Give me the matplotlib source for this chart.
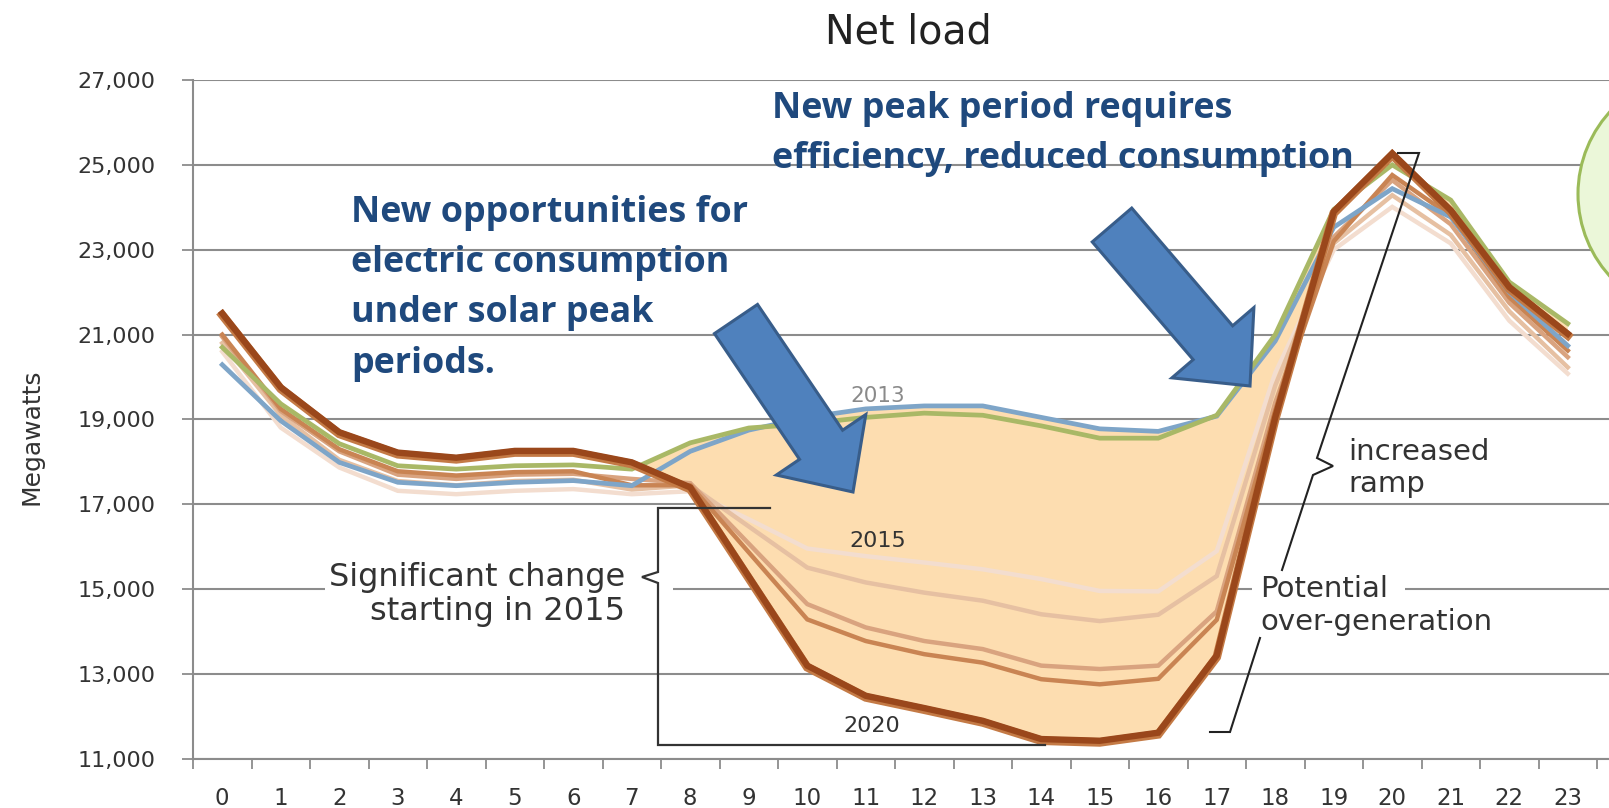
import numpy as np
import matplotlib
matplotlib.use("Agg")
import matplotlib.pyplot as plt
from matplotlib.patches import Polygon, Ellipse, Rectangle
from matplotlib.lines import Line2D
import matplotlib.patheffects as pe

# ---------------- data ----------------
hours = list(range(24))
hour_labels = [str(h) for h in hours]
y_ticks = [11000, 13000, 15000, 17000, 19000, 21000, 23000, 25000, 27000]

load_2012 = [20700, 19370, 18430, 17910, 17830, 17910, 17930, 17830, 18450, 18800, 18900, 19050,
             19150, 19100, 18850, 18560, 18560, 19100, 21000, 23950, 25000, 24170, 22240, 21260]
load_2013 = [20290, 18970, 17990, 17520, 17440, 17520, 17560, 17440, 18250, 18750, 19050, 19250,
             19320, 19320, 19050, 18780, 18720, 19080, 20850, 23530, 24440, 23770, 22000, 20740]
load_2015 = [20600, 18810, 17870, 17320, 17240, 17320, 17360, 17240, 17310, 16650, 15960, 15780,
             15630, 15470, 15240, 14960, 14950, 15900, 20100, 23000, 24010, 23150, 21330, 20080]
load_2016 = [20800, 19100, 18050, 17550, 17450, 17550, 17580, 17350, 17450, 16480, 15510, 15160,
             14920, 14730, 14410, 14250, 14400, 15310, 19800, 23150, 24285, 23350, 21550, 20230]
load_2018 = [20950, 19200, 18250, 17700, 17600, 17700, 17720, 17600, 17500, 16075, 14650, 14100,
             13780, 13590, 13200, 13120, 13200, 14480, 19400, 23300, 24640, 23600, 21750, 20470]
load_2019 = [21000, 19250, 18300, 17780, 17680, 17760, 17780, 17450, 17450, 15870, 14290, 13780,
             13470, 13270, 12880, 12760, 12890, 14280, 19200, 23200, 24760, 23800, 21880, 20625]
load_2020 = [21500, 19760, 18700, 18220, 18100, 18260, 18260, 17990, 17400, 15300, 13200, 12490,
             12200, 11900, 11470, 11430, 11620, 13440, 19050, 23900, 25270, 23930, 22120, 21020]

# ---------------- figure ----------------
W, H = 1609, 808
fig = plt.figure(figsize=(W / 100, H / 100), dpi=100)
fig.patch.set_facecolor("white")


def P(x, y):
    return (x / W, 1 - y / H)


ax = fig.add_axes([193 / W, 1 - 759 / H, (W - 193) / W, (759 - 80) / H])
ax.set_xlim(-0.5, -0.5 + (W - 193) / 58.5)
ax.set_ylim(11000, 27000)
ax.set_facecolor("none")

grey = "#8c8c8c"
txt = "#333333"

ax.set_yticks(y_ticks)
ax.set_yticklabels([f"{v:,}" for v in y_ticks], fontsize=16, color=txt, family="DejaVu Sans")
ax.set_xticks(hours)
ax.set_xticklabels(hour_labels, fontsize=16.5, color=txt, family="DejaVu Sans")
ax.set_xticks(np.arange(-0.5, 24.0, 1.0), minor=True)
ax.tick_params(axis="x", which="major", length=0, pad=20)
ax.tick_params(axis="x", which="minor", length=7, width=1.3, color=grey, direction="out")
ax.tick_params(axis="y", which="major", length=8, width=1.3, color=grey, direction="out", pad=19)
ax.yaxis.grid(True, color=grey, lw=1.5, zorder=0)
ax.set_axisbelow(True)
for s in ["top", "right"]:
    ax.spines[s].set_visible(False)
for s in ["left", "bottom"]:
    ax.spines[s].set_color(grey)
    ax.spines[s].set_linewidth(1.5)

FT = fig.transFigure

fig.text(*P(31, 437), "Megawatts", rotation=90, ha="center", va="center", fontsize=18,
         color=txt, family="DejaVu Sans")

# fill (belly)
upper = np.maximum(load_2012, load_2013)
lower = np.array(load_2020)
ax.fill_between(hours, lower, upper, where=upper >= lower, interpolate=True,
                color="#FDDDB0", lw=0, zorder=1)

# lines
ax.plot(hours, load_2015, color="#F3DDCF", lw=3.2, zorder=2, solid_joinstyle="miter")
ax.plot(hours, load_2016, color="#E6C0A2", lw=3.2, zorder=2, solid_joinstyle="miter")
ax.plot(hours, load_2018, color="#D9A37F", lw=3.2, zorder=2, solid_joinstyle="miter")
ax.plot(hours, load_2019, color="#C98453", lw=3.2, zorder=2, solid_joinstyle="miter")
ax.plot(hours, load_2013, color="#7EA5C8", lw=3.4, zorder=2.1, solid_joinstyle="miter")
ax.plot(hours, load_2012, color="#A9B866", lw=3.4, zorder=2.2, solid_joinstyle="miter")
ax.plot(hours, load_2020, color="#9A471B", lw=4.6, zorder=2.3, solid_joinstyle="miter",
        path_effects=[pe.Stroke(linewidth=6.2, foreground="#C47A45", offset=(0, -1.2)), pe.Normal()])

# white boxes behind annotation text (hide gridline)
ax.add_patch(Rectangle(P(325, 620), (673 - 325) / W, 60 / H, transform=FT, color="white",
                       zorder=4, clip_on=False, lw=0))
ax.add_patch(Rectangle(P(1252, 603), (1405 - 1252) / W, 26 / H, transform=FT, color="white",
                       zorder=4, clip_on=False, lw=0))


def line(xs, ys, color="#333333", lw=1.6):
    pts = [P(x, y) for x, y in zip(xs, ys)]
    ax.add_line(Line2D([p[0] for p in pts], [p[1] for p in pts], transform=FT, color=color,
                       lw=lw, zorder=5, clip_on=False, solid_joinstyle="miter"))


# "Significant change" bracket
line([770, 658, 658, 642, 658, 658, 1045], [508, 508, 572, 577, 583, 745, 745])
# increased ramp brace
line([1398, 1419, 1317, 1333, 1313, 1282], [153, 153, 458, 466, 475, 570], color="#222222", lw=1.5)
# potential over-generation leg
line([1260, 1230, 1210], [638, 732, 732], color="#222222", lw=1.5)

# grey annotation texts
tk = dict(transform=FT, family="DejaVu Sans", color=txt, zorder=6)
ax.text(*P(625, 586), "Significant change", ha="right", va="baseline", fontsize=23, **tk)
ax.text(*P(625, 620), "starting in 2015", ha="right", va="baseline", fontsize=23, **tk)
ax.text(*P(1348, 460), "increased", ha="left", va="baseline", fontsize=21, **tk)
ax.text(*P(1348, 492), "ramp", ha="left", va="baseline", fontsize=21, **tk)
ax.text(*P(1260, 597), "Potential", ha="left", va="baseline", fontsize=21, **tk)
ax.text(*P(1260, 630), "over-generation", ha="left", va="baseline", fontsize=21, **tk)
ax.text(*P(878, 547), "2015", ha="center", va="baseline", fontsize=16, **tk)
ax.text(*P(872, 732), "2020", ha="center", va="baseline", fontsize=16, **tk)
ax.text(*P(878, 402), "2013", ha="center", va="baseline", fontsize=15.5, transform=FT,
        family="DejaVu Sans", color="#8a8a8a", zorder=6)

# title
fig.text(*P(908, 44), "Net load", ha="center", va="baseline", fontsize=28.5, color="#222222",
         family="DejaVu Sans")

# blue bold texts
bt = dict(transform=FT, family="Open Sans", weight="bold", color="#1F497D", fontsize=25.8,
          ha="left", va="baseline", zorder=7)
for s, yb in zip(["New opportunities for", "electric consumption", "under solar peak", "periods."],
                 [222, 272, 322, 373]):
    ax.text(*P(351, yb), s, **bt)
for s, yb in zip(["New peak period requires", "efficiency, reduced consumption"], [118, 168]):
    ax.text(*P(772, yb), s, **bt)


# block arrows
def block_arrow(tail, tip, shaft_hw=26, head_hw=54, head_len=57):
    tail = np.array(tail, float)
    tip = np.array(tip, float)
    d = (tip - tail) / np.linalg.norm(tip - tail)
    p = np.array([d[1], -d[0]])
    base = tip - head_len * d
    pts = [tail + shaft_hw * p, base + shaft_hw * p, base + head_hw * p, tip,
           base - head_hw * p, base - shaft_hw * p, tail - shaft_hw * p]
    ax.add_patch(Polygon([P(*q) for q in pts], closed=True, transform=FT, facecolor="#4F81BD",
                         edgecolor="#385D8A", lw=2.2, zorder=8, clip_on=False,
                         joinstyle="miter"))


block_arrow((736, 319), (853, 492))
block_arrow((1112, 225), (1250, 386))

# green callout shape at right edge
ax.add_patch(Ellipse(P(1700, 194), 244 / W, 244 / H, transform=FT, facecolor="#EBF7D9",
                     edgecolor="#9BBB59", lw=2.2, zorder=9, clip_on=False))

fig.savefig("out.png", dpi=100, facecolor="white")
